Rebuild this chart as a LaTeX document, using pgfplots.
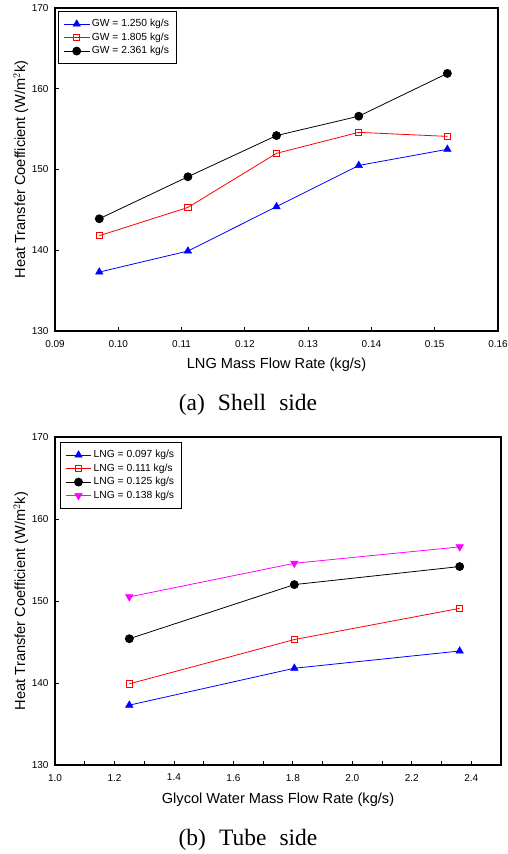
\documentclass[border=0pt]{standalone}
\usepackage{pgfplots}
\pgfplotsset{compat=1.18}
\usepackage{fontspec}
\setmainfont{Liberation Sans}
\newfontfamily\timesfont{Liberation Serif}
\definecolor{mag}{RGB}{255,0,255}
\definecolor{pblue}{RGB}{0,0,255}
\definecolor{pred}{RGB}{255,0,0}

\pgfplotsset{
  hx/.style={
    scale only axis,
    axis line style={line width=1.4pt},
    tick align=inside,
    xtick pos=bottom, ytick pos=left,
    major tick length=4pt, minor tick length=4pt,
    every tick/.style={line width=0.8pt, black},
    ymin=130, ymax=170, ytick={130,140,150,160,170},
    tick label style={font=\fontsize{10}{12}\selectfont},
    /pgf/number format/assume math mode=true,
    scaled x ticks=false,
    label style={font=\fontsize{14.6}{17}\selectfont, inner sep=0pt},
    xticklabel style={yshift=-5.5pt},
    yticklabel style={xshift=-3pt},
    legend cell align=left,
    legend style={draw=black, line width=0.8pt, fill=white,
      font=\fontsize{10.3}{12}\selectfont, anchor=north west,
      inner xsep=5pt, inner ysep=6pt,
      nodes={inner sep=2pt, text height=7.5pt, text depth=2pt}},
    legend image code/.code={\draw[mark repeat=2,mark phase=2,##1] plot coordinates {(0cm,0cm)(0.45cm,0cm)(0.9cm,0cm)};},
    every axis plot/.append style={line width=0.8pt},
  },
  sA/.style={pblue, mark=triangle*, mark size=4.3pt, mark options={solid, fill=pblue, line width=0.5pt}},
  sB/.style={pred, mark=square, mark size=3.1pt, mark options={solid, fill=white, line width=0.8pt}},
  sC/.style={black, mark=*, mark size=4pt, mark options={solid, fill=black}},
  sD/.style={mag, mark=triangle*, mark size=4.3pt, mark options={solid, fill=mag, rotate=180, line width=0.5pt}},
}

\begin{document}
\begin{tikzpicture}
\useasboundingbox (0pt,0pt) rectangle (508pt,854pt);

% (a) Shell side
\begin{axis}[hx,
  at={(55pt,523pt)}, anchor=south west,
  width=443pt, height=323pt,
  xmin=0.09, xmax=0.16,
  xtick={0.09,0.10,0.11,0.12,0.13,0.14,0.15,0.16},
  xticklabel style={/pgf/number format/fixed, /pgf/number format/fixed zerofill, /pgf/number format/precision=2},
  xlabel={LNG Mass Flow Rate (kg/s)},
  ylabel={Heat Transfer Coefficient (W/m$^{2}$k)},
  xlabel style={at={(axis description cs:0.5,-0.083)}, anchor=north},
  ylabel style={at={(axis description cs:-0.0600,0.5)}, anchor=south},
  legend style={at={(axis description cs:0.007,0.991)}},
]
\addplot[sA] coordinates {(0.097,137.3)(0.111,139.9)(0.125,145.4)(0.138,150.5)(0.152,152.5)};
\addlegendentry{GW = 1.250 kg/s}
\addplot[sB] coordinates {(0.097,141.8)(0.111,145.3)(0.125,152.0)(0.138,154.6)(0.152,154.1)};
\addlegendentry{GW = 1.805 kg/s}
\addplot[sC] coordinates {(0.097,143.9)(0.111,149.1)(0.125,154.2)(0.138,156.6)(0.152,161.9)};
\addlegendentry{GW = 2.361 kg/s}
\end{axis}

\node[font=\timesfont\fontsize{23.5}{27}\selectfont] at (248pt,449pt) {(a)\hspace{13pt}Shell\hspace{13pt}side};

% (b) Tube side
\begin{axis}[hx,
  at={(55pt,89pt)}, anchor=south west,
  width=446pt, height=328pt,
  xmin=1.0, xmax=2.5,
  xtick={1.0,1.2,1.4,1.6,1.8,2.0,2.2,2.4},
  minor xtick={1.1,1.3,1.5,1.7,1.9,2.1,2.3},
  xticklabel style={/pgf/number format/fixed, /pgf/number format/fixed zerofill, /pgf/number format/precision=1},
  xlabel={Glycol Water Mass Flow Rate (kg/s)},
  ylabel={Heat Transfer Coefficient (W/m$^{2}$k)},
  xlabel style={at={(axis description cs:0.5,-0.085)}, anchor=north},
  ylabel style={at={(axis description cs:-0.060,0.5)}, anchor=south},
  legend style={at={(axis description cs:0.011,0.985)}},
]
\addplot[sA] coordinates {(1.250,137.3)(1.805,141.8)(2.361,143.9)};
\addlegendentry{LNG = 0.097 kg/s}
\addplot[sB] coordinates {(1.250,139.9)(1.805,145.3)(2.361,149.1)};
\addlegendentry{LNG = 0.111 kg/s}
\addplot[sC] coordinates {(1.250,145.4)(1.805,152.0)(2.361,154.2)};
\addlegendentry{LNG = 0.125 kg/s}
\addplot[sD] coordinates {(1.250,150.5)(1.805,154.6)(2.361,156.6)};
\addlegendentry{LNG = 0.138 kg/s}
\end{axis}

\node[font=\timesfont\fontsize{23.5}{27}\selectfont] at (248pt,14pt) {(b)\hspace{13pt}Tube\hspace{13pt}side};
\end{tikzpicture}
\end{document}
